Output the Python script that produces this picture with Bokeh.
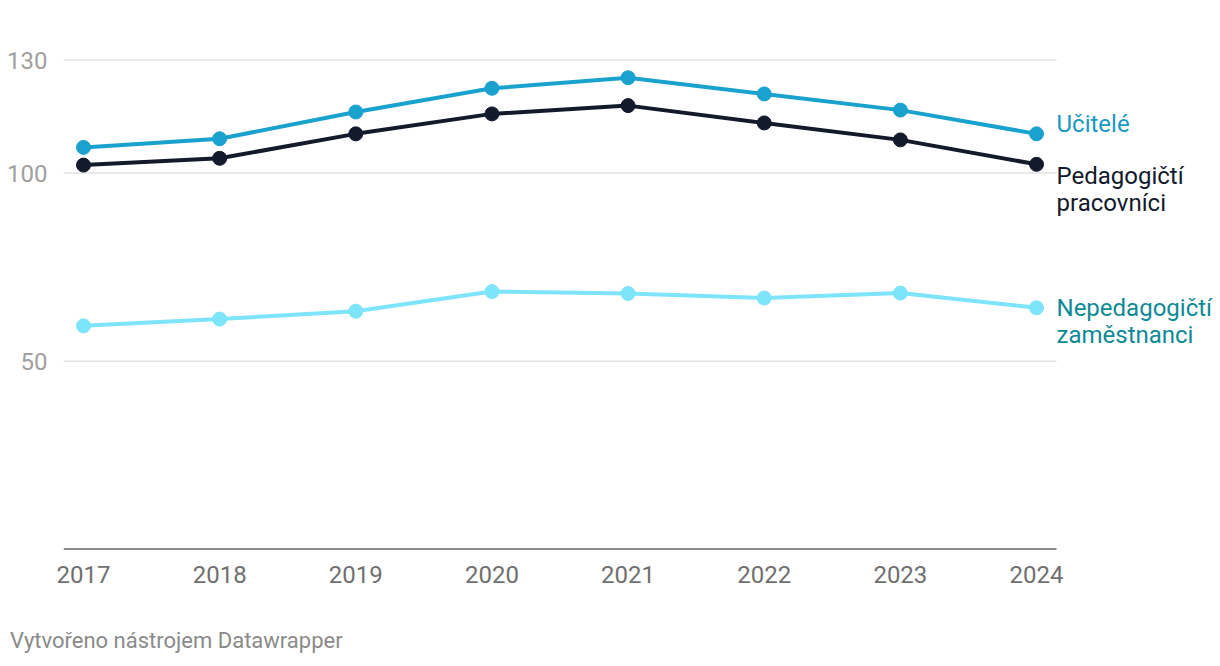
from bokeh.plotting import figure
from bokeh.models import ColumnDataSource, FixedTicker, Range1d, Div
from bokeh.layouts import column
from bokeh.core.properties import value
from bokeh.embed import file_html
from bokeh.resources import INLINE

years = [2017, 2018, 2019, 2020, 2021, 2022, 2023, 2024]
ucitele = [106.8, 109.1, 116.2, 122.5, 125.3, 121.0, 116.7, 110.4]
pedagogicti = [102.1, 103.9, 110.4, 115.7, 117.9, 113.3, 108.8, 102.3]
nepedagogicti = [59.4, 61.2, 63.3, 68.5, 68.0, 66.8, 68.1, 64.2]
y_ticks = [50, 100, 130]
series_names = ["Učitelé", "Pedagogičtí\npracovníci", "Nepedagogičtí\nzaměstnanci"]
credit_text = "Vytvořeno nástrojem Datawrapper"

FONT = "Roboto"
PAD = 0.147  # year padding on each side of the data
x_start = years[0] - PAD
x_end_axis = years[-1] + PAD

fig = figure(width=1216, height=628, output_backend="svg", toolbar_location=None,
             x_range=Range1d(x_start, 2025.322), y_range=Range1d(0, 140.24),
             min_border_left=63, min_border_right=0, min_border_top=21,
             min_border_bottom=79)
fig.outline_line_color = None
fig.background_fill_color = "white"
fig.border_fill_color = "white"

# gridlines and baseline (span only the data area)
fig.segment(x0=[x_start] * len(y_ticks), x1=[x_end_axis] * len(y_ticks),
            y0=y_ticks, y1=y_ticks, line_color="#e2e2e2", line_width=1.5)
fig.segment(x0=[x_start], x1=[x_end_axis], y0=[0], y1=[0],
            line_color="#1a1a1a", line_width=2.2)

series = [
    (nepedagogicti, "#7de4fa"),
    (pedagogicti, "#121a2c"),
    (ucitele, "#1aa2cf"),
]
for vals, col in series:
    src = ColumnDataSource(dict(x=years, y=vals))
    fig.line("x", "y", source=src, line_color=col, line_width=4)
    fig.scatter("x", "y", source=src, size=14, fill_color=col, line_color=col)

# axes
fig.xaxis.ticker = FixedTicker(ticks=years)
fig.xaxis.axis_line_color = None
fig.xaxis.major_tick_line_color = None
fig.xaxis.minor_tick_line_color = None
fig.xaxis.major_label_text_font = FONT
fig.xaxis.major_label_text_font_size = "24px"
fig.xaxis.major_label_text_color = "#707070"
fig.xaxis.major_label_standoff = 10

fig.yaxis.ticker = FixedTicker(ticks=y_ticks)
fig.yaxis.axis_line_color = None
fig.yaxis.major_tick_line_color = None
fig.yaxis.minor_tick_line_color = None
fig.yaxis.major_label_text_font = FONT
fig.yaxis.major_label_text_font_size = "24px"
fig.yaxis.major_label_text_color = "#a0a0a0"
fig.yaxis.major_label_standoff = 10

fig.xgrid.grid_line_color = None
fig.ygrid.grid_line_color = None

# series labels
label_y = [ucitele[-1], pedagogicti[-1], nepedagogicti[-1]]
label_off = [-10, -2, -14]
label_base = ["middle", "top", "top"]
label_col = ["#1a98c3", "#121a2c", "#0e8a96"]
for i in range(3):
    fig.text(x=[years[-1]], y=[label_y[i]], text=[series_names[i]],
             x_offset=20, y_offset=label_off[i],
             text_font=value(FONT), text_font_size=value("24px"),
             text_color=label_col[i], text_baseline=label_base[i],
             text_align="left", text_line_height=0.97)

credit = Div(text=credit_text, width=600, height=30, margin=(0, 0, 0, 0),
             styles={"font-family": "Roboto", "font-size": "22px",
                     "color": "#8a8a8a", "padding-left": "10px",
                     "line-height": "26px"})

p = column(fig, credit, spacing=0)
open("out.html", "w").write(file_html(p, INLINE))
